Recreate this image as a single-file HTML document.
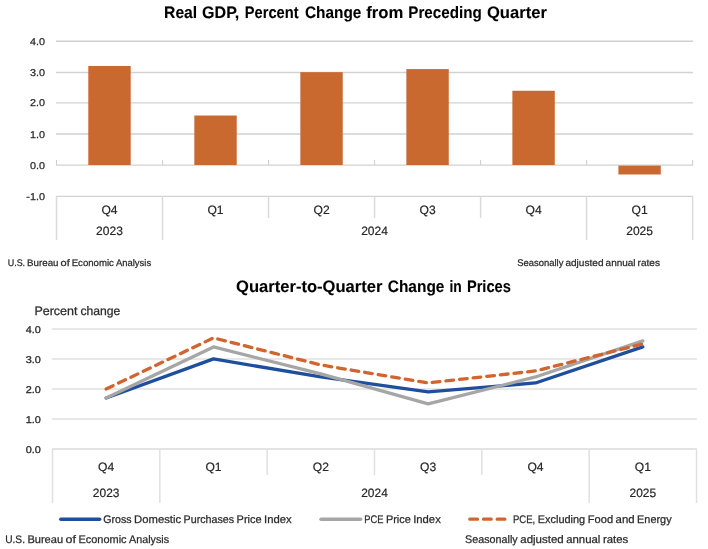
<!DOCTYPE html>
<html lang="en"><head><meta charset="utf-8"><title>GDP and Prices</title>
<style>
html,body{margin:0;padding:0;background:#fff;}
body{width:708px;height:549px;overflow:hidden;}
svg{display:block;font-family:"Liberation Sans", sans-serif;text-rendering:geometricPrecision;}
</style></head><body>
<svg width="708" height="549" viewBox="0 0 708 549">
<rect width="708" height="549" fill="#ffffff"/>
<line x1="56.00" y1="196.40" x2="693.10" y2="196.40" stroke="#D1D1D1" stroke-width="1.4"/>
<text x="45.00" y="199.90" font-size="9.9" text-anchor="end" font-weight="normal" fill="#2a2a2a" textLength="18.7" lengthAdjust="spacingAndGlyphs" stroke="#2a2a2a" stroke-width="0.25">-1.0</text>
<line x1="56.00" y1="165.10" x2="693.10" y2="165.10" stroke="#D1D1D1" stroke-width="1.4"/>
<text x="45.00" y="168.60" font-size="9.9" text-anchor="end" font-weight="normal" fill="#2a2a2a" textLength="15.0" lengthAdjust="spacingAndGlyphs" stroke="#2a2a2a" stroke-width="0.25">0.0</text>
<line x1="56.00" y1="134.00" x2="693.10" y2="134.00" stroke="#D1D1D1" stroke-width="1.4"/>
<text x="45.00" y="137.50" font-size="9.9" text-anchor="end" font-weight="normal" fill="#2a2a2a" textLength="15.0" lengthAdjust="spacingAndGlyphs" stroke="#2a2a2a" stroke-width="0.25">1.0</text>
<line x1="56.00" y1="102.90" x2="693.10" y2="102.90" stroke="#D1D1D1" stroke-width="1.4"/>
<text x="45.00" y="106.40" font-size="9.9" text-anchor="end" font-weight="normal" fill="#2a2a2a" textLength="15.0" lengthAdjust="spacingAndGlyphs" stroke="#2a2a2a" stroke-width="0.25">2.0</text>
<line x1="56.00" y1="72.50" x2="693.10" y2="72.50" stroke="#D1D1D1" stroke-width="1.4"/>
<text x="45.00" y="76.00" font-size="9.9" text-anchor="end" font-weight="normal" fill="#2a2a2a" textLength="15.0" lengthAdjust="spacingAndGlyphs" stroke="#2a2a2a" stroke-width="0.25">3.0</text>
<line x1="56.00" y1="41.20" x2="693.10" y2="41.20" stroke="#D1D1D1" stroke-width="1.4"/>
<text x="45.00" y="44.70" font-size="9.9" text-anchor="end" font-weight="normal" fill="#2a2a2a" textLength="15.0" lengthAdjust="spacingAndGlyphs" stroke="#2a2a2a" stroke-width="0.25">4.0</text>
<line x1="56.50" y1="160.00" x2="56.50" y2="165.00" stroke="#CFCFCF" stroke-width="1.1"/>
<line x1="162.52" y1="160.00" x2="162.52" y2="165.00" stroke="#CFCFCF" stroke-width="1.1"/>
<line x1="268.53" y1="160.00" x2="268.53" y2="165.00" stroke="#CFCFCF" stroke-width="1.1"/>
<line x1="374.55" y1="160.00" x2="374.55" y2="165.00" stroke="#CFCFCF" stroke-width="1.1"/>
<line x1="480.57" y1="160.00" x2="480.57" y2="165.00" stroke="#CFCFCF" stroke-width="1.1"/>
<line x1="586.58" y1="160.00" x2="586.58" y2="165.00" stroke="#CFCFCF" stroke-width="1.1"/>
<line x1="692.60" y1="160.00" x2="692.60" y2="165.00" stroke="#CFCFCF" stroke-width="1.1"/>
<rect x="88.31" y="65.98" width="42.4" height="99.02" fill="#C9682F"/>
<rect x="194.33" y="115.54" width="42.4" height="49.46" fill="#C9682F"/>
<rect x="300.34" y="72.17" width="42.4" height="92.83" fill="#C9682F"/>
<rect x="406.36" y="69.08" width="42.4" height="95.92" fill="#C9682F"/>
<rect x="512.38" y="90.76" width="42.4" height="74.24" fill="#C9682F"/>
<rect x="618.39" y="165.60" width="42.4" height="8.89" fill="#C9682F"/>
<line x1="56.50" y1="196.30" x2="56.50" y2="240.00" stroke="#DADADA" stroke-width="1.5"/>
<line x1="162.52" y1="196.30" x2="162.52" y2="240.00" stroke="#DADADA" stroke-width="1.5"/>
<line x1="268.53" y1="196.30" x2="268.53" y2="218.00" stroke="#DADADA" stroke-width="1.5"/>
<line x1="374.55" y1="196.30" x2="374.55" y2="218.00" stroke="#DADADA" stroke-width="1.5"/>
<line x1="480.57" y1="196.30" x2="480.57" y2="218.00" stroke="#DADADA" stroke-width="1.5"/>
<line x1="586.58" y1="196.30" x2="586.58" y2="240.00" stroke="#DADADA" stroke-width="1.5"/>
<line x1="692.60" y1="196.30" x2="692.60" y2="240.00" stroke="#DADADA" stroke-width="1.5"/>
<text x="109.51" y="213.80" font-size="12.1" text-anchor="middle" font-weight="normal" fill="#262626" stroke="#262626" stroke-width="0.2">Q4</text>
<text x="215.53" y="213.80" font-size="12.1" text-anchor="middle" font-weight="normal" fill="#262626" stroke="#262626" stroke-width="0.2">Q1</text>
<text x="321.54" y="213.80" font-size="12.1" text-anchor="middle" font-weight="normal" fill="#262626" stroke="#262626" stroke-width="0.2">Q2</text>
<text x="427.56" y="213.80" font-size="12.1" text-anchor="middle" font-weight="normal" fill="#262626" stroke="#262626" stroke-width="0.2">Q3</text>
<text x="533.58" y="213.80" font-size="12.1" text-anchor="middle" font-weight="normal" fill="#262626" stroke="#262626" stroke-width="0.2">Q4</text>
<text x="639.59" y="213.80" font-size="12.1" text-anchor="middle" font-weight="normal" fill="#262626" stroke="#262626" stroke-width="0.2">Q1</text>
<text x="109.51" y="235.40" font-size="12.1" text-anchor="middle" font-weight="normal" fill="#262626" textLength="26.8" lengthAdjust="spacingAndGlyphs" stroke="#262626" stroke-width="0.2">2023</text>
<text x="374.55" y="235.40" font-size="12.1" text-anchor="middle" font-weight="normal" fill="#262626" textLength="26.8" lengthAdjust="spacingAndGlyphs" stroke="#262626" stroke-width="0.2">2024</text>
<text x="639.59" y="235.40" font-size="12.1" text-anchor="middle" font-weight="normal" fill="#262626" textLength="26.8" lengthAdjust="spacingAndGlyphs" stroke="#262626" stroke-width="0.2">2025</text>
<text y="18.40" font-size="16.6" font-weight="bold" fill="#000" stroke="#000" stroke-width="0.1"><tspan x="164.1" textLength="33.1" lengthAdjust="spacingAndGlyphs">Real</tspan> <tspan x="202.1" textLength="37.2" lengthAdjust="spacingAndGlyphs">GDP,</tspan> <tspan x="244.8" textLength="53.8" lengthAdjust="spacingAndGlyphs">Percent</tspan> <tspan x="305.0" textLength="56.4" lengthAdjust="spacingAndGlyphs">Change</tspan> <tspan x="366.3" textLength="37.1" lengthAdjust="spacingAndGlyphs">from</tspan> <tspan x="408.3" textLength="73.4" lengthAdjust="spacingAndGlyphs">Preceding</tspan> <tspan x="486.9" textLength="60.0" lengthAdjust="spacingAndGlyphs">Quarter</tspan></text>
<text y="265.80" font-size="9.55" font-weight="normal" fill="#2b2b2b" stroke="#2b2b2b" stroke-width="0.25"><tspan x="7.7" textLength="17.4" lengthAdjust="spacingAndGlyphs">U.S.</tspan> <tspan x="27.1" textLength="31.4" lengthAdjust="spacingAndGlyphs">Bureau</tspan> <tspan x="60.5" textLength="9.2" lengthAdjust="spacingAndGlyphs">of</tspan> <tspan x="71.7" textLength="42.2" lengthAdjust="spacingAndGlyphs">Economic</tspan> <tspan x="116.0" textLength="35.1" lengthAdjust="spacingAndGlyphs">Analysis</tspan></text>
<text y="265.80" font-size="9.66" font-weight="normal" fill="#2b2b2b" stroke="#2b2b2b" stroke-width="0.25"><tspan x="517.2" textLength="46.2" lengthAdjust="spacingAndGlyphs">Seasonally</tspan> <tspan x="565.4" textLength="38.1" lengthAdjust="spacingAndGlyphs">adjusted</tspan> <tspan x="605.6" textLength="30.0" lengthAdjust="spacingAndGlyphs">annual</tspan> <tspan x="637.6" textLength="22.4" lengthAdjust="spacingAndGlyphs">rates</tspan></text>
<line x1="51.90" y1="449.00" x2="696.90" y2="449.00" stroke="#DADADA" stroke-width="1.5"/>
<text x="40.80" y="452.80" font-size="9.9" text-anchor="end" font-weight="normal" fill="#2a2a2a" textLength="15.1" lengthAdjust="spacingAndGlyphs" stroke="#2a2a2a" stroke-width="0.3">0.0</text>
<line x1="51.90" y1="418.98" x2="696.90" y2="418.98" stroke="#E1E1E1" stroke-width="1.5"/>
<text x="40.80" y="422.78" font-size="9.9" text-anchor="end" font-weight="normal" fill="#2a2a2a" textLength="15.1" lengthAdjust="spacingAndGlyphs" stroke="#2a2a2a" stroke-width="0.3">1.0</text>
<line x1="51.90" y1="388.95" x2="696.90" y2="388.95" stroke="#E1E1E1" stroke-width="1.5"/>
<text x="40.80" y="392.75" font-size="9.9" text-anchor="end" font-weight="normal" fill="#2a2a2a" textLength="15.1" lengthAdjust="spacingAndGlyphs" stroke="#2a2a2a" stroke-width="0.3">2.0</text>
<line x1="51.90" y1="358.92" x2="696.90" y2="358.92" stroke="#E1E1E1" stroke-width="1.5"/>
<text x="40.80" y="362.72" font-size="9.9" text-anchor="end" font-weight="normal" fill="#2a2a2a" textLength="15.1" lengthAdjust="spacingAndGlyphs" stroke="#2a2a2a" stroke-width="0.3">3.0</text>
<line x1="51.90" y1="328.90" x2="696.90" y2="328.90" stroke="#E1E1E1" stroke-width="1.5"/>
<text x="40.80" y="332.70" font-size="9.9" text-anchor="end" font-weight="normal" fill="#2a2a2a" textLength="15.1" lengthAdjust="spacingAndGlyphs" stroke="#2a2a2a" stroke-width="0.3">4.0</text>
<line x1="52.50" y1="449.00" x2="52.50" y2="503.00" stroke="#E0E0E0" stroke-width="1.5"/>
<line x1="159.83" y1="449.00" x2="159.83" y2="503.00" stroke="#E0E0E0" stroke-width="1.5"/>
<line x1="267.17" y1="449.00" x2="267.17" y2="475.00" stroke="#E0E0E0" stroke-width="1.5"/>
<line x1="374.50" y1="449.00" x2="374.50" y2="475.00" stroke="#E0E0E0" stroke-width="1.5"/>
<line x1="481.83" y1="449.00" x2="481.83" y2="475.00" stroke="#E0E0E0" stroke-width="1.5"/>
<line x1="589.17" y1="449.00" x2="589.17" y2="503.00" stroke="#E0E0E0" stroke-width="1.5"/>
<line x1="696.50" y1="449.00" x2="696.50" y2="503.00" stroke="#E0E0E0" stroke-width="1.5"/>
<text x="106.17" y="471.20" font-size="12.1" text-anchor="middle" font-weight="normal" fill="#262626" stroke="#262626" stroke-width="0.2">Q4</text>
<text x="213.50" y="471.20" font-size="12.1" text-anchor="middle" font-weight="normal" fill="#262626" stroke="#262626" stroke-width="0.2">Q1</text>
<text x="320.83" y="471.20" font-size="12.1" text-anchor="middle" font-weight="normal" fill="#262626" stroke="#262626" stroke-width="0.2">Q2</text>
<text x="428.17" y="471.20" font-size="12.1" text-anchor="middle" font-weight="normal" fill="#262626" stroke="#262626" stroke-width="0.2">Q3</text>
<text x="535.50" y="471.20" font-size="12.1" text-anchor="middle" font-weight="normal" fill="#262626" stroke="#262626" stroke-width="0.2">Q4</text>
<text x="642.83" y="471.20" font-size="12.1" text-anchor="middle" font-weight="normal" fill="#262626" stroke="#262626" stroke-width="0.2">Q1</text>
<text x="106.17" y="497.20" font-size="12.1" text-anchor="middle" font-weight="normal" fill="#262626" textLength="26.6" lengthAdjust="spacingAndGlyphs" stroke="#262626" stroke-width="0.2">2023</text>
<text x="374.50" y="497.20" font-size="12.1" text-anchor="middle" font-weight="normal" fill="#262626" textLength="26.6" lengthAdjust="spacingAndGlyphs" stroke="#262626" stroke-width="0.2">2024</text>
<text x="642.83" y="497.20" font-size="12.1" text-anchor="middle" font-weight="normal" fill="#262626" textLength="26.6" lengthAdjust="spacingAndGlyphs" stroke="#262626" stroke-width="0.2">2025</text>
<polyline points="106.17,397.96 213.50,358.92 320.83,376.94 428.17,391.95 535.50,382.94 642.83,346.91" fill="none" stroke="#1F4E9C" stroke-width="3.3" stroke-linecap="round" stroke-linejoin="round"/>
<polyline points="106.17,397.96 213.50,346.91 320.83,373.94 428.17,403.96 535.50,376.94 642.83,340.91" fill="none" stroke="#A6A6A6" stroke-width="3.3" stroke-linecap="round" stroke-linejoin="round"/>
<polyline points="106.17,388.95 213.50,337.91 320.83,364.93 428.17,382.94 535.50,370.94 642.83,343.91" fill="none" stroke="#D1652F" stroke-width="3.3" stroke-linecap="round" stroke-linejoin="round" stroke-dasharray="7.7 6"/>
<text y="291.50" font-size="16.6" font-weight="bold" fill="#000" stroke="#000" stroke-width="0.1"><tspan x="236.0" textLength="146.5" lengthAdjust="spacingAndGlyphs">Quarter-to-Quarter</tspan> <tspan x="387.8" textLength="56.6" lengthAdjust="spacingAndGlyphs">Change</tspan> <tspan x="449.5" textLength="12.3" lengthAdjust="spacingAndGlyphs">in</tspan> <tspan x="466.9" textLength="44.0" lengthAdjust="spacingAndGlyphs">Prices</tspan></text>
<text y="314.70" font-size="12.28" font-weight="normal" fill="#2b2b2b" stroke="#2b2b2b" stroke-width="0.25"><tspan x="34.4" textLength="43.1" lengthAdjust="spacingAndGlyphs">Percent</tspan> <tspan x="80.4" textLength="40.0" lengthAdjust="spacingAndGlyphs">change</tspan></text>
<line x1="60.80" y1="519.20" x2="99.70" y2="519.20" stroke="#1F4E9C" stroke-width="3.4" stroke-linecap="round"/>
<text y="523.20" font-size="11.03" font-weight="normal" fill="#2b2b2b" stroke="#2b2b2b" stroke-width="0.25"><tspan x="103.3" textLength="28.3" lengthAdjust="spacingAndGlyphs">Gross</tspan> <tspan x="134.1" textLength="47.0" lengthAdjust="spacingAndGlyphs">Domestic</tspan> <tspan x="183.6" textLength="50.5" lengthAdjust="spacingAndGlyphs">Purchases</tspan> <tspan x="236.6" textLength="25.0" lengthAdjust="spacingAndGlyphs">Price</tspan> <tspan x="264.1" textLength="27.6" lengthAdjust="spacingAndGlyphs">Index</tspan></text>
<line x1="321.00" y1="519.20" x2="360.60" y2="519.20" stroke="#A6A6A6" stroke-width="3.4" stroke-linecap="round"/>
<text y="523.20" font-size="11.0" font-weight="normal" fill="#2b2b2b" stroke="#2b2b2b" stroke-width="0.25"><tspan x="364.3" textLength="19.1" lengthAdjust="spacingAndGlyphs">PCE</tspan> <tspan x="385.9" textLength="24.9" lengthAdjust="spacingAndGlyphs">Price</tspan> <tspan x="413.2" textLength="27.6" lengthAdjust="spacingAndGlyphs">Index</tspan></text>
<line x1="469.80" y1="519.20" x2="505.40" y2="519.20" stroke="#D1652F" stroke-width="3.3" stroke-linecap="round" stroke-dasharray="7.7 6"/>
<text y="523.20" font-size="11.05" font-weight="normal" fill="#2b2b2b" stroke="#2b2b2b" stroke-width="0.25"><tspan x="513.0" textLength="22.2" lengthAdjust="spacingAndGlyphs">PCE,</tspan> <tspan x="537.7" textLength="47.5" lengthAdjust="spacingAndGlyphs">Excluding</tspan> <tspan x="587.8" textLength="25.3" lengthAdjust="spacingAndGlyphs">Food</tspan> <tspan x="615.6" textLength="19.0" lengthAdjust="spacingAndGlyphs">and</tspan> <tspan x="637.1" textLength="34.5" lengthAdjust="spacingAndGlyphs">Energy</tspan></text>
<text y="543.10" font-size="10.93" font-weight="normal" fill="#2b2b2b" stroke="#2b2b2b" stroke-width="0.25"><tspan x="5.2" textLength="19.8" lengthAdjust="spacingAndGlyphs">U.S.</tspan> <tspan x="27.4" textLength="35.7" lengthAdjust="spacingAndGlyphs">Bureau</tspan> <tspan x="65.6" textLength="10.4" lengthAdjust="spacingAndGlyphs">of</tspan> <tspan x="78.5" textLength="48.1" lengthAdjust="spacingAndGlyphs">Economic</tspan> <tspan x="129.1" textLength="40.0" lengthAdjust="spacingAndGlyphs">Analysis</tspan></text>
<text y="543.10" font-size="11.04" font-weight="normal" fill="#2b2b2b" stroke="#2b2b2b" stroke-width="0.25"><tspan x="465.1" textLength="52.6" lengthAdjust="spacingAndGlyphs">Seasonally</tspan> <tspan x="520.3" textLength="43.4" lengthAdjust="spacingAndGlyphs">adjusted</tspan> <tspan x="566.2" textLength="34.2" lengthAdjust="spacingAndGlyphs">annual</tspan> <tspan x="602.9" textLength="25.4" lengthAdjust="spacingAndGlyphs">rates</tspan></text>
</svg>
</body></html>
